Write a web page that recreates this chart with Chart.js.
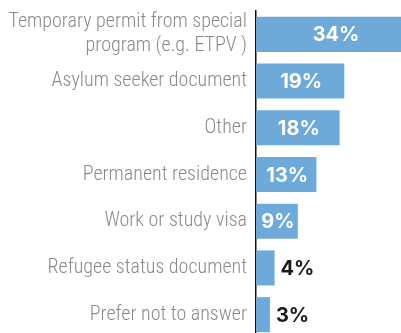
<!DOCTYPE html>
<html>
<head>
<meta charset="utf-8">
<script src="https://cdn.jsdelivr.net/npm/chart.js@4/dist/chart.umd.min.js"></script>
<style>
  html, body { margin: 0; padding: 0; background: #fff; overflow: hidden; }
  #wrap { position: absolute; left: 0; top: 0; width: 414px; height: 340px; }
</style>
</head>
<body>
<div id="wrap"><canvas id="chart" width="414" height="340"></canvas></div>
<script>
// Document type held by respondents (share of responses, %)
const categories = [
  ["Temporary permit from special", "program (e.g. ETPV )"],
  "Asylum seeker document",
  "Other",
  "Permanent residence",
  "Work or study visa",
  "Refugee status document",
  "Prefer not to answer"
];
const shares = [34, 19, 18, 13, 9, 4, 3];
const valueLabels = ["34%", "19%", "18%", "13%", "9%", "4%", "3%"];

const BAR_COLOR = "#6eaad9";
const LABEL_FONT = '"Roboto Condensed", Roboto, sans-serif';
const VALUE_FONT = 'Inter, "Open Sans", sans-serif';

// Writes each value on its bar; short bars get the text just past their end.
const valueLabelPlugin = {
  id: "valueLabels",
  afterDatasetsDraw(chart) {
    const ctx = chart.ctx;
    const meta = chart.getDatasetMeta(0);
    ctx.save();
    ctx.font = "700 20px " + VALUE_FONT;
    ctx.textBaseline = "middle";
    meta.data.forEach((bar, i) => {
      const text = valueLabels[i];
      const w = bar.x - bar.base;
      const tw = ctx.measureText(text).width;
      if (tw + 8 < w) {
        ctx.fillStyle = "#ffffff";
        ctx.textAlign = "center";
        ctx.fillText(text, (bar.x + bar.base) / 2 + 1, bar.y + 1);
      } else {
        ctx.fillStyle = "#1a1a1a";
        ctx.textAlign = "left";
        ctx.fillText(text, bar.x + 6, bar.y + 1);
      }
    });
    ctx.restore();
  }
};

new Chart(document.getElementById("chart"), {
  type: "bar",
  data: {
    labels: categories,
    datasets: [{
      data: shares,
      backgroundColor: BAR_COLOR,
      borderWidth: 0,
      categoryPercentage: 1,
      barPercentage: 0.75
    }]
  },
  options: {
    indexAxis: "y",
    responsive: false,
    animation: false,
    devicePixelRatio: 1,
    layout: { padding: { top: 11, bottom: 2, left: 0, right: 0 } },
    plugins: {
      legend: { display: false },
      tooltip: { enabled: false }
    },
    scales: {
      x: {
        display: false,
        min: 0,
        max: 34
      },
      y: {
        afterFit(scale) {
          scale.width = 256;
          scale.paddingTop = 0;
          scale.paddingBottom = 0;
        },
        grid: { display: false, drawTicks: false },
        border: { display: true, color: "#111", width: 1.5 },
        ticks: {
          autoSkip: false,
          color: "#8a8a8a",
          padding: 9,
          font: { family: LABEL_FONT, size: 20, weight: 300, lineHeight: 1.2 }
        }
      }
    }
  },
  plugins: [valueLabelPlugin]
});
</script>
</body>
</html>
